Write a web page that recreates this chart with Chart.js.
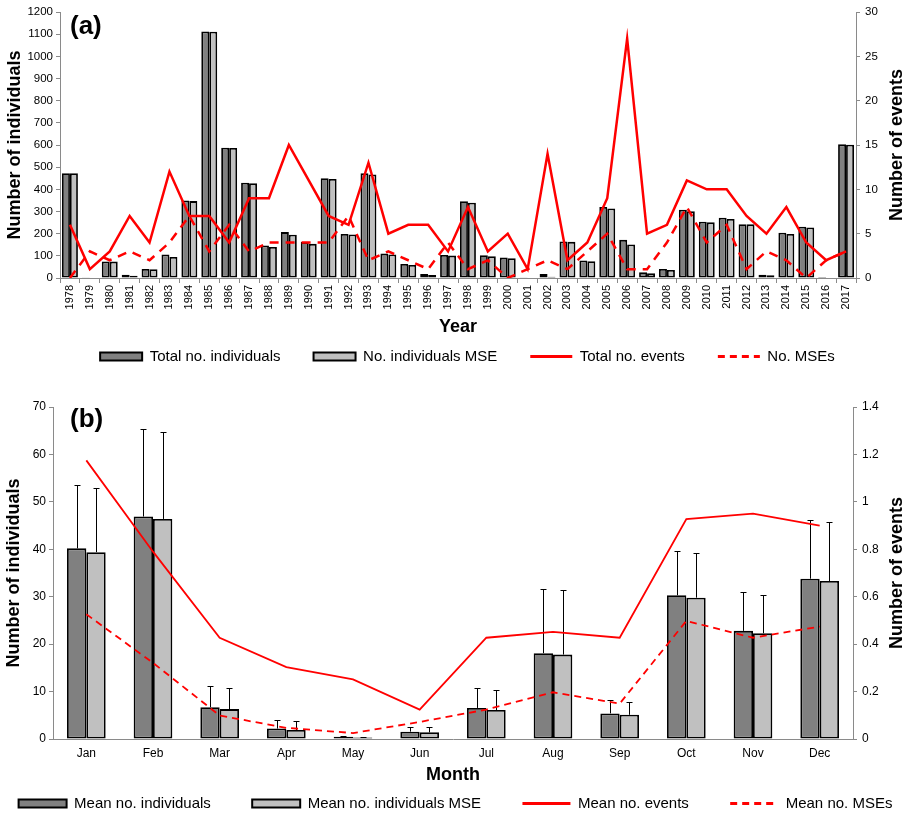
<!DOCTYPE html>
<html>
<head>
<meta charset="utf-8">
<script src="https://cdn.jsdelivr.net/npm/chart.js@4.4.1/dist/chart.umd.min.js"></script>
<style>
  body { margin: 0; background: #fff; overflow: hidden; }
  #wrap { position: relative; width: 911px; height: 816px; overflow: hidden; }
  .box { position: absolute; left: 0; }
</style>
</head>
<body>
<div id="wrap">
  <div class="box" style="top:0;width:935px;height:374px"><canvas id="chartA"></canvas></div>
  <div class="box" style="top:378px;width:911px;height:443px"><canvas id="chartB"></canvas></div>
</div>
<script>
// ---- panel (a): by year ----
var years = ['1978','1979','1980','1981','1982','1983','1984','1985','1986','1987',
             '1988','1989','1990','1991','1992','1993','1994','1995','1996','1997',
             '1998','1999','2000','2001','2002','2003','2004','2005','2006','2007',
             '2008','2009','2010','2011','2012','2013','2014','2015','2016','2017'];
var totalInd = [473,3,75,15,41,106,350,1112,588,430,147,207,162,450,199,473,110,63,18,104,
                346,103,92,3,18,165,79,320,172,26,41,308,254,272,243,15,204,231,5,603];
var mseInd   = [472,0,74,10,40,95,347,1111,587,427,140,195,154,447,196,467,106,59,13,101,
                340,98,89,0,6,163,76,314,151,21,36,301,251,266,242,12,199,228,0,601];
var totalEv  = [6,1,3,7,4,12,7,7,4,9,9,15,11,7,6,13,5,6,6,3,
                8,3,5,1,14,2,4,9,27,5,6,11,10,10,7,5,8,4,2,3];
var mseEv    = [0,3,2,3,2,4,7,3,6,3,4,4,4,4,7,2,3,2,1,4,
                1,2,0,1,2,1,3,5,1,1,4,8,4,6,1,3,2,0,2,3];

// ---- panel (b): by month ----
var months = ['Jan','Feb','Mar','Apr','May','Jun','Jul','Aug','Sep','Oct','Nov','Dec'];
var meanInd    = [40.2,46.9,6.7,2.2,0.5,1.55,6.55,18.1,5.4,30.3,22.8,33.8];
var meanMse    = [39.4,46.4,6.3,1.9,0.3,1.4,6.1,17.8,5.1,29.8,22.3,33.3];
var meanIndTop = [53.6,65.3,11.1,4.0,0.7,2.5,10.7,31.6,8.2,39.7,31.0,46.2]; // mean + error
var meanMseTop = [53.0,64.8,10.7,3.7,0.5,2.5,10.3,31.4,7.9,39.3,30.4,45.7];
var meanEv     = [1.175,0.79,0.427,0.303,0.251,0.124,0.427,0.452,0.427,0.927,0.95,0.90];
var meanMseEv  = [0.526,0.321,0.099,0.047,0.025,0.072,0.124,0.197,0.149,0.498,0.427,0.474];

var FONT = "'Liberation Sans', Arial, sans-serif";
var AXIS = '#8a8a8a';
var DARK = '#808080', LIGHT = '#c0c0c0', RED = '#ff0000';
var TITLE_FONT = { family: FONT, size: 18, weight: 'bold' };

// error bars on top of the bars
var errorBars = {
  id: 'errorBars',
  afterDatasetDraw: function(chart, args, opts) {
    if (!opts.tops || !opts.tops[args.index]) return;
    var tops = opts.tops[args.index];
    var ctx = chart.ctx, y = chart.scales.y;
    ctx.save();
    ctx.strokeStyle = '#000';
    ctx.lineWidth = 1;
    args.meta.data.forEach(function(bar, i) {
      var yt = Math.round(y.getPixelForValue(tops[i])) + 0.5;
      var x = Math.round(bar.x) + 0.5;
      ctx.beginPath();
      ctx.moveTo(x, bar.y);
      ctx.lineTo(x, yt);
      ctx.moveTo(x - 3, yt);
      ctx.lineTo(x + 3, yt);
      ctx.stroke();
    });
    ctx.restore();
  }
};

// panel letter and right axis title (reads bottom to top)
var extraText = {
  id: 'extraText',
  afterDraw: function(chart, args, opts) {
    var ctx = chart.ctx, a = chart.chartArea;
    ctx.save();
    ctx.fillStyle = '#000';
    ctx.font = 'bold 26px ' + FONT;
    ctx.textBaseline = 'alphabetic';
    ctx.fillText(opts.letter, a.left + opts.letterX, a.top + opts.letterY);
    ctx.font = 'bold 18px ' + FONT;
    ctx.translate(opts.titleX, (a.top + a.bottom) / 2);
    ctx.rotate(-Math.PI / 2);
    ctx.textAlign = 'center';
    ctx.textBaseline = 'middle';
    ctx.fillText(opts.rightTitle, 0, 0);
    ctx.restore();
  }
};

function makeLegendLabels(nSpaces) {
  var pad = new Array(nSpaces + 1).join(' ');
  return function(chart) {
    var items = Chart.defaults.plugins.legend.labels.generateLabels(chart);
    items.sort(function(a, b) { return a.datasetIndex - b.datasetIndex; });
    items.forEach(function(it, i) {
      var ds = chart.data.datasets[it.datasetIndex];
      if (ds.type === 'line') {
        it.pointStyle = 'line';
        it.lineWidth = 3;
        it.strokeStyle = RED;
        it.lineDash = ds.borderDash ? [7, 5] : [];
      } else {
        it.pointStyle = 'rect';
        it.lineWidth = 2;
        it.strokeStyle = '#000';
      }
      if (i < items.length - 1) it.text = it.text + pad;
    });
    return items;
  };
}

function axisGrid() {
  return { display: true, drawOnChartArea: false, drawTicks: true, tickLength: 4, color: AXIS };
}

new Chart(document.getElementById('chartA'), {
  data: {
    labels: years,
    datasets: [
      { type: 'bar', label: 'Total no. individuals', data: totalInd, yAxisID: 'y', order: 1,
        backgroundColor: DARK, borderColor: '#000', borderWidth: 1.8, borderSkipped: false,
        barPercentage: 1, categoryPercentage: 0.8 },
      { type: 'bar', label: 'No. individuals MSE', data: mseInd, yAxisID: 'y', order: 1,
        backgroundColor: LIGHT, borderColor: '#000', borderWidth: 1.8, borderSkipped: false,
        barPercentage: 1, categoryPercentage: 0.8 },
      { type: 'line', label: 'Total no. events', data: totalEv, yAxisID: 'y1', order: 0,
        borderColor: RED, backgroundColor: RED, borderWidth: 2.5, pointRadius: 0, tension: 0 },
      { type: 'line', label: 'No. MSEs', data: mseEv, yAxisID: 'y1', order: 0,
        borderColor: RED, backgroundColor: RED, borderWidth: 2.5, borderDash: [9, 7], pointRadius: 0, tension: 0 }
    ]
  },
  options: {
    responsive: true,
    maintainAspectRatio: false,
    animation: false,
    layout: { padding: { top: 12, left: 0, right: 0, bottom: 0 } },
    scales: {
      x: {
        grid: { display: true, drawOnChartArea: false, drawTicks: true, tickLength: 5, color: AXIS, offset: true },
        border: { color: AXIS },
        ticks: { color: '#000', font: { family: FONT, size: 11 }, minRotation: 90, maxRotation: 90, autoSkip: false, padding: 2 },
        title: { display: true, text: 'Year', color: '#000', font: TITLE_FONT, padding: { top: 3, bottom: 3 } },
        afterFit: function(s) { s.height = 63; }
      },
      y: {
        position: 'left', min: 0, max: 1200,
        grid: axisGrid(), border: { color: AXIS },
        ticks: { stepSize: 100, color: '#000', font: { family: FONT, size: 11.5 }, padding: 3,
                 callback: function(v) { return String(v); } },
        title: { display: true, text: 'Number of individuals', color: '#000', font: TITLE_FONT, padding: { top: 4, bottom: 4 } },
        afterFit: function(s) { s.width = 60; }
      },
      y1: {
        position: 'right', min: 0, max: 30,
        grid: axisGrid(), border: { color: AXIS },
        ticks: { stepSize: 5, color: '#000', font: { family: FONT, size: 11.5 }, padding: 5 },
        afterFit: function(s) { s.width = 79; }
      }
    },
    plugins: {
      legend: {
        position: 'bottom',
        labels: { usePointStyle: true, pointStyleWidth: 42, boxHeight: 8, padding: 8, color: '#000',
                  font: { family: FONT, size: 15 }, generateLabels: makeLegendLabels(6) }
      },
      tooltip: { enabled: false },
      extraText: { letter: '(a)', letterX: 10, letterY: 22, titleX: 897, rightTitle: 'Number of events' }
    }
  },
  plugins: [extraText]
});

new Chart(document.getElementById('chartB'), {
  data: {
    labels: months,
    datasets: [
      { type: 'bar', label: 'Mean no. individuals', data: meanInd, yAxisID: 'y', order: 1,
        backgroundColor: DARK, borderColor: '#000', borderWidth: 1.8, borderSkipped: false,
        barPercentage: 1, categoryPercentage: 0.58 },
      { type: 'bar', label: 'Mean no. individuals MSE', data: meanMse, yAxisID: 'y', order: 1,
        backgroundColor: LIGHT, borderColor: '#000', borderWidth: 1.8, borderSkipped: false,
        barPercentage: 1, categoryPercentage: 0.58 },
      { type: 'line', label: 'Mean no. events', data: meanEv, yAxisID: 'y1', order: 0,
        borderColor: RED, backgroundColor: RED, borderWidth: 1.8, pointRadius: 0, tension: 0 },
      { type: 'line', label: 'Mean no. MSEs', data: meanMseEv, yAxisID: 'y1', order: 0,
        borderColor: RED, backgroundColor: RED, borderWidth: 1.8, borderDash: [7, 5], pointRadius: 0, tension: 0 }
    ]
  },
  options: {
    responsive: true,
    maintainAspectRatio: false,
    animation: false,
    layout: { padding: { top: 29, left: 0, right: 0, bottom: 0 } },
    scales: {
      x: {
        grid: { display: false, drawTicks: false },
        border: { color: AXIS },
        ticks: { color: '#000', font: { family: FONT, size: 12 }, padding: 7 },
        title: { display: true, text: 'Month', color: '#000', font: TITLE_FONT, padding: { top: 2, bottom: 2 } },
        afterFit: function(s) { s.height = 49; }
      },
      y: {
        position: 'left', min: 0, max: 70,
        grid: axisGrid(), border: { color: AXIS },
        ticks: { stepSize: 10, color: '#000', font: { family: FONT, size: 12 }, padding: 3 },
        title: { display: true, text: 'Number of individuals', color: '#000', font: TITLE_FONT, padding: { top: 3, bottom: 3 } },
        afterFit: function(s) { s.width = 53; }
      },
      y1: {
        position: 'right', min: 0, max: 1.4,
        grid: axisGrid(), border: { color: AXIS },
        ticks: { stepSize: 0.2, color: '#000', font: { family: FONT, size: 12 }, padding: 5,
                 callback: function(v) { return String(Math.round(v * 10) / 10); } },
        afterFit: function(s) { s.width = 58; }
      }
    },
    plugins: {
      legend: {
        position: 'bottom',
        labels: { usePointStyle: true, pointStyleWidth: 48, boxHeight: 8, padding: 8, color: '#000',
                  font: { family: FONT, size: 15 }, generateLabels: makeLegendLabels(8) }
      },
      tooltip: { enabled: false },
      errorBars: { tops: [meanIndTop, meanMseTop] },
      extraText: { letter: '(b)', letterX: 17, letterY: 20, titleX: 897, rightTitle: 'Number of events' }
    }
  },
  plugins: [errorBars, extraText]
});
</script>
</body>
</html>
